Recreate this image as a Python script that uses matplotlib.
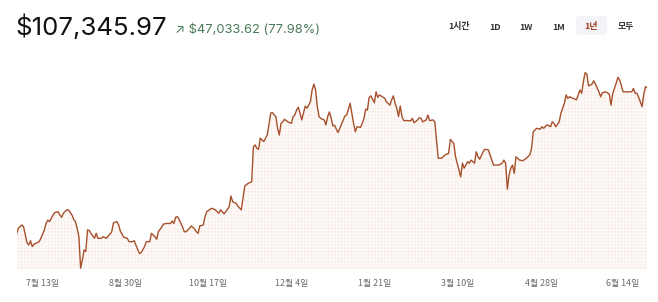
import pandas as pd
import matplotlib
matplotlib.use("Agg")
from matplotlib import pyplot as plt
from matplotlib.patches import FancyBboxPatch
from matplotlib.transforms import IdentityTransform

# price history (days since start, USD)
start_date = "2024-06-28"
days = [0, 1, 3, 4, 5, 6, 7, 8, 9, 10, 12, 13, 14, 16, 17, 18, 19, 21, 22, 24,
        25, 26, 27, 29, 30, 32, 33, 34, 35, 36, 37, 38, 39, 40, 41, 42, 43, 45, 46, 47,
        49, 50, 52, 53, 55, 56, 58, 59, 60, 62, 63, 64, 65, 67, 68, 69, 71, 72, 74, 75,
        77, 78, 80, 81, 82, 84, 85, 87, 89, 90, 91, 92, 93, 94, 96, 97, 98, 100, 101, 103,
        104, 105, 106, 108, 109, 110, 112, 113, 115, 116, 117, 118, 120, 121, 123, 124, 125, 127, 128, 130,
        131, 132, 134, 136, 137, 138, 139, 140, 141, 142, 143, 145, 146, 147, 148, 149, 150, 151, 152, 153,
        154, 155, 157, 158, 159, 160, 161, 162, 163, 164, 165, 166, 167, 168, 169, 170, 171, 172, 173, 174,
        175, 176, 178, 179, 180, 181, 182, 183, 184, 185, 186, 187, 189, 190, 191, 193, 194, 195, 196, 197,
        199, 200, 201, 202, 203, 204, 205, 207, 208, 209, 210, 213, 214, 216, 217, 218, 219, 220, 221, 222,
        223, 224, 226, 228, 229, 230, 232, 233, 234, 235, 237, 238, 239, 241, 242, 243, 244, 246, 248, 250,
        251, 253, 254, 257, 258, 259, 261, 262, 263, 265, 266, 267, 268, 270, 271, 273, 275, 276, 279, 281,
        282, 283, 284, 285, 286, 287, 288, 289, 291, 293, 295, 297, 298, 299, 301, 303, 304, 305, 307, 309,
        310, 311, 312, 314, 315, 317, 318, 319, 320, 322, 324, 326, 327, 328, 329, 330, 331, 333, 334, 335,
        337, 338, 339, 341, 343, 344, 345, 347, 348, 349, 351, 353, 356, 357, 358, 359, 360, 362, 363, 364,
        365]
prices = [60300, 62000, 63000, 62400, 59800, 57200, 56500, 57900, 56000, 56800, 57300, 57600, 58700, 61400, 63500, 64600, 64100, 66200, 67000, 67300,
          66200, 65500, 66800, 67900, 67900, 66200, 64800, 64100, 61900, 59200, 49000, 51700, 54900, 54400, 61400, 61200, 60300, 58700, 60300, 58700,
          58700, 59200, 58700, 59400, 60800, 63700, 64100, 63000, 61000, 59000, 58900, 58700, 57600, 57600, 57900, 56500, 53800, 54000, 56000, 57600,
          57600, 60300, 59200, 58400, 60800, 62400, 63300, 63500, 63500, 64300, 63500, 65500, 65700, 64800, 62400, 60800, 60800, 61900, 62700, 61700,
          60800, 60300, 62700, 63000, 65700, 67300, 68100, 68400, 67900, 67300, 66800, 67900, 66600, 67300, 68900, 72400, 70500, 70000, 69100, 67900,
          71700, 75600, 76500, 77000, 88300, 88900, 87800, 87500, 91100, 90500, 90000, 92100, 95400, 99200, 99400, 98600, 98100, 94300, 92100, 95900,
          96400, 97200, 96400, 96100, 95900, 98100, 98600, 100200, 101100, 99200, 97000, 99200, 101500, 100800, 101800, 102900, 106700, 108600, 106700, 101300,
          98100, 97500, 97000, 95400, 98100, 99600, 97600, 95100, 95300, 94000, 92900, 94300, 97000, 98300, 98600, 102400, 99200, 95900, 93200, 94800,
          94600, 95900, 97500, 100500, 100200, 104300, 104800, 102600, 106100, 104300, 105100, 104000, 102900, 101800, 103500, 104800, 102400, 100800, 98100, 101500,
          98100, 96800, 96800, 96700, 97500, 96100, 97000, 97700, 97500, 96400, 97000, 98600, 96800, 97000, 96400, 90500, 84600, 84600, 85700, 86200,
          90700, 89400, 85100, 78600, 83000, 81400, 83500, 83000, 84000, 83000, 86700, 85100, 84300, 86700, 87500, 87300, 84000, 82400, 82400, 83000,
          84000, 83000, 74600, 79200, 81400, 82400, 79700, 85100, 84000, 83800, 84600, 85700, 87800, 93200, 94300, 94000, 94800, 94300, 95400, 94800,
          96400, 95900, 94800, 96400, 99200, 102400, 105100, 104000, 104500, 104000, 103500, 106700, 105600, 109400, 112300, 111900, 108000, 108600, 109700, 108600,
          106100, 104500, 105800, 106100, 105400, 101800, 105600, 108900, 110800, 109900, 106100, 106100, 106100, 107200, 105600, 105600, 104300, 101300, 105600, 107800,
          107345.97]

tick_dates = ["2024-07-13", "2024-08-30", "2024-10-17", "2024-12-04",
              "2025-01-21", "2025-03-10", "2025-04-28", "2025-06-14"]
tick_labels = ["7월 13일", "8월 30일", "10월 17일", "12월 4일",
               "1월 21일", "3월 10일", "4월 28일", "6월 14일"]

price_text = "$107,345.97"
change_text = "↗ $47,033.62 (77.98%)"
ranges = ["1시간", "1D", "1W", "1M", "1년", "모두"]
active_range = "1년"

kr = ["Noto Sans CJK KR", "DejaVu Sans"]
W, H = 658, 302

dates = pd.Timestamp(start_date) + pd.to_timedelta(days, unit="D")

fig = plt.figure(figsize=(W / 100, H / 100), dpi=100)
ax = fig.add_axes([16.7 / W, 1 - 269 / H, 630.6 / W, 209 / H])

bottom = 48750
plt.rcParams["hatch.linewidth"] = 0.35
ax.fill_between(dates, prices, bottom, facecolor="#fdfaf8", edgecolor="#f5ebe4",
                hatch="+++++", linewidth=0)
ax.plot(dates, prices, color="#a8502b", lw=1.0, solid_joinstyle="round")

ax.set_xlim(dates[0], dates[-1])
ax.set_ylim(bottom, 116400)
ax.set_xticks(pd.to_datetime(tick_dates))
ax.set_xticklabels(tick_labels, family=kr, fontsize=6.4, color="#6b6b6b")
ax.tick_params(axis="x", length=0, pad=7)
ax.set_yticks([])
for s in ax.spines.values():
    s.set_visible(False)
ax.patch.set_alpha(0)

# header
fig.text(15 / W, 1 - 35 / H, price_text, family=["Inter", "DejaVu Sans"],
         fontsize=18.6, color="#111111", va="baseline")
fig.text(175 / W, 1 - 33 / H, change_text, family=["Inter", "DejaVu Sans"],
         fontsize=9.3, color="#4b7a57", va="baseline")

# range selector
centers = [459, 495, 526, 559, 591, 626]
box = FancyBboxPatch((576, H - 35), 31, 19, boxstyle="round,pad=0,rounding_size=4",
                     transform=IdentityTransform(), facecolor="#f4f3f8", edgecolor="none")
fig.add_artist(box)
for lab, cx in zip(ranges, centers):
    col = "#9a3c22" if lab == active_range else "#333333"
    fig.text(cx / W, 1 - 27 / H, lab, family=kr, fontsize=6.4, color=col,
             ha="center", va="center", fontweight="bold")

fig.savefig("out.png", dpi=100)
